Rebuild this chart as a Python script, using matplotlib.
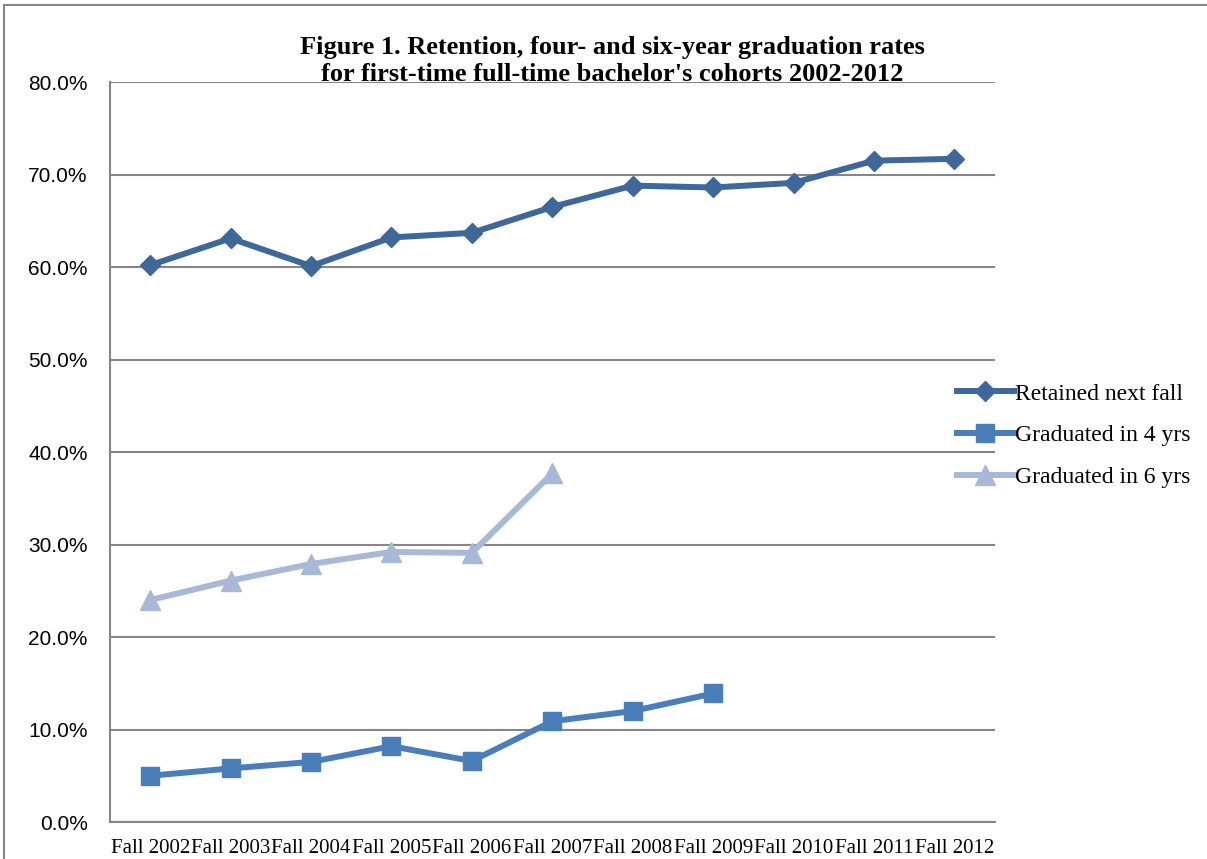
import matplotlib.pyplot as plt
from matplotlib.patches import Rectangle
from matplotlib.ticker import PercentFormatter

years = ["Fall 2002", "Fall 2003", "Fall 2004", "Fall 2005", "Fall 2006", "Fall 2007",
         "Fall 2008", "Fall 2009", "Fall 2010", "Fall 2011", "Fall 2012"]
retained = [60.2, 63.1, 60.1, 63.2, 63.7, 66.5, 68.8, 68.6, 69.1, 71.5, 71.7]
grad4 = [5.0, 5.8, 6.5, 8.2, 6.6, 10.9, 12.0, 13.9]
grad6 = [24.0, 26.1, 27.9, 29.2, 29.1, 37.7]

fig = plt.figure(figsize=(12.07, 8.59), dpi=100)
ax = fig.add_axes([0.0911, 0.043, 0.733, 0.8615])

# outer frame of the chart object
fig.patches.append(Rectangle((0.003, -0.01), 1.2, 1.004, transform=fig.transFigure,
                             fill=False, edgecolor="#868686", linewidth=1.5))

ax.plot(range(len(retained)), retained, color="#3D6899", lw=4.3, marker="D",
        ms=10.5, label="Retained next fall")
ax.plot(range(len(grad4)), grad4, color="#4A7EBB", lw=4.3, marker="s",
        ms=12.5, label="Graduated in 4 yrs")
ax.plot(range(len(grad6)), grad6, color="#A7B9D7", lw=4.3, marker="^",
        ms=15, label="Graduated in 6 yrs")

ax.set_xlim(-0.5, len(years) - 0.5)
ax.set_ylim(0, 80)
ax.set_yticks(range(0, 81, 10))
ax.yaxis.set_major_formatter(PercentFormatter(decimals=1))
ax.set_xticks(range(len(years)))
ax.set_xticklabels(years, family="Liberation Serif", fontsize=15)
for t in ax.get_yticklabels():
    t.set_family("Liberation Sans")
    t.set_fontsize(15)
ax.tick_params(axis="both", length=0)
ax.tick_params(axis="x", pad=12)
ax.tick_params(axis="y", pad=16)
ax.grid(axis="y", color="#868686", lw=1.5)
ax.set_axisbelow(True)
for s in ["top", "right"]:
    ax.spines[s].set_visible(False)
ax.spines["left"].set_color("#868686")
ax.spines["left"].set_linewidth(1.5)
ax.spines["bottom"].set_color("#868686")
ax.spines["bottom"].set_linewidth(1.5)

fig.text(0.507, 0.929, "Figure 1. Retention, four- and six-year graduation rates\n"
         "for first-time full-time bachelor's cohorts 2002-2012",
         ha="center", va="center", family="Liberation Serif", fontweight="bold",
         fontsize=19, linespacing=1.25)

ax.legend(loc="center left", bbox_to_anchor=(0.793, 0.493), bbox_transform=fig.transFigure,
          frameon=False, prop={"family": "Liberation Serif", "size": 17},
          handlelength=2.4, handletextpad=0.05, labelspacing=0.85, borderpad=0,
          borderaxespad=0)

fig.savefig("out.png", dpi=100)
